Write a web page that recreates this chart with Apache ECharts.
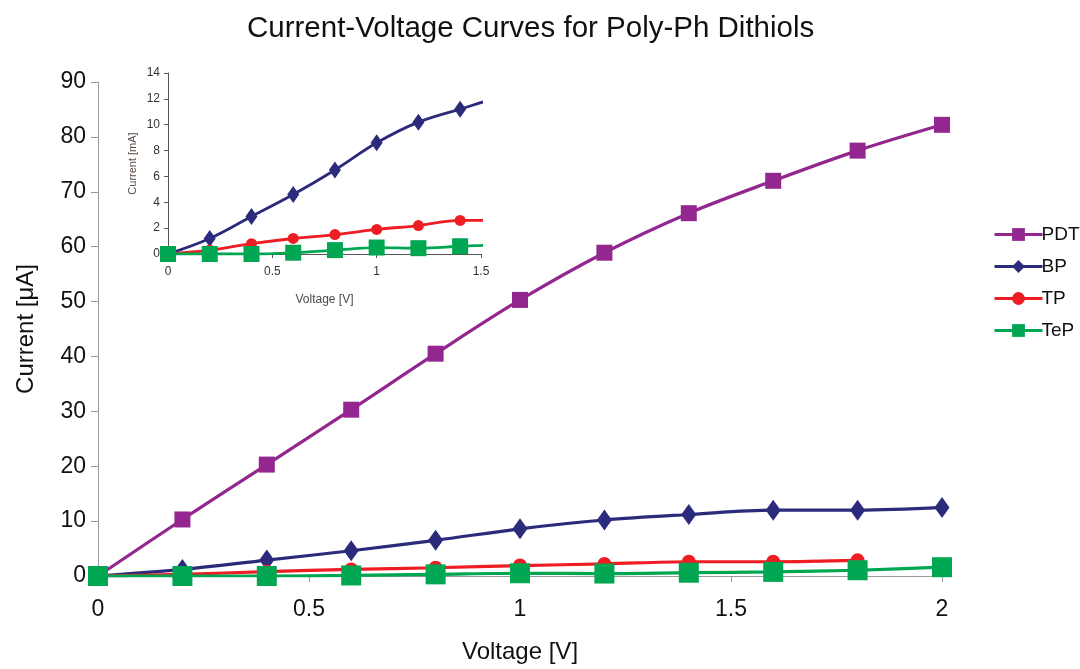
<!DOCTYPE html>
<html>
<head>
<meta charset="utf-8">
<script src="https://cdn.jsdelivr.net/npm/echarts@6/dist/echarts.min.js"></script>
<style>
  html, body { margin: 0; padding: 0; background: #fff; }
  #chart { width: 1080px; height: 669px; }
</style>
</head>
<body>
<div id="chart"></div>
<script>
// Bias voltages [V]
const voltage = [0, 0.2, 0.4, 0.6, 0.8, 1.0, 1.2, 1.4, 1.6, 1.8, 2.0];
// Measured currents per molecule
const pdt = [0, 10.3, 20.3, 30.3, 40.5, 50.3, 58.9, 66.1, 72.0, 77.5, 82.2];
const bp  = [0, 1.2, 2.9, 4.6, 6.5, 8.6, 10.2, 11.2, 12.0, 12.0, 12.5];
const tp  = [0, 0.3, 0.8, 1.2, 1.5, 1.9, 2.2, 2.6, 2.6, 2.85];
const tep = [0, 0, 0, 0.1, 0.3, 0.5, 0.45, 0.6, 0.75, 1.05, 1.6];

const seriesNames = ['PDT', 'BP', 'TP', 'TeP'];
const colors = { PDT: '#93278F', BP: '#2B2A7B', TP: '#EE1D23', TeP: '#00A651' };

const FONT = 'Liberation Sans, Arial, sans-serif';

function pairs(values) {
  return values.map((v, i) => [voltage[i], v]);
}

const mainStyle = {
  PDT: { symbol: 'rect', symbolSize: 16 },
  BP:  { symbol: 'diamond', symbolSize: [15, 21] },
  TP:  { symbol: 'circle', symbolSize: 14 },
  TeP: { symbol: 'rect', symbolSize: 20 }
};
const insetStyle = {
  BP:  { symbol: 'diamond', symbolSize: [12, 17] },
  TP:  { symbol: 'circle', symbolSize: 11 },
  TeP: { symbol: 'rect', symbolSize: 16 }
};
const dataBy = { PDT: pdt, BP: bp, TP: tp, TeP: tep };

const series = [];
seriesNames.forEach(name => {
  series.push({
    name: name,
    type: 'line',
    xAxisIndex: 0,
    yAxisIndex: 0,
    data: pairs(dataBy[name]),
    smooth: 0.35,
    symbol: mainStyle[name].symbol,
    symbolSize: mainStyle[name].symbolSize,
    showAllSymbol: true,
    lineStyle: { color: colors[name], width: 3.2 },
    itemStyle: { color: colors[name] },
    emphasis: { disabled: true },
    animation: false
  });
});
['BP', 'TP', 'TeP'].forEach(name => {
  series.push({
    name: name,
    type: 'line',
    xAxisIndex: 1,
    yAxisIndex: 1,
    data: pairs(dataBy[name]),
    smooth: 0.35,
    symbol: insetStyle[name].symbol,
    symbolSize: insetStyle[name].symbolSize,
    showAllSymbol: true,
    lineStyle: { color: colors[name], width: 2.8 },
    itemStyle: { color: colors[name] },
    emphasis: { disabled: true },
    animation: false
  });
});

const chart = echarts.init(document.getElementById('chart'), null, { renderer: 'canvas' });

chart.setOption({
  backgroundColor: '#fff',
  animation: false,
  textStyle: { fontFamily: FONT },
  title: {
    text: 'Current-Voltage Curves for Poly-Ph Dithiols',
    left: 242,
    top: 9,
    textStyle: { fontFamily: FONT, fontSize: 29.5, fontWeight: 'normal', color: '#111' }
  },
  legend: {
    data: seriesNames,
    orient: 'vertical',
    left: 988,
    top: 220,
    itemWidth: 48,
    itemHeight: 16,
    itemGap: 13,
    lineStyle: { width: 3 },
    textStyle: { fontFamily: FONT, fontSize: 19, color: '#111', padding: [0, 0, 0, -6] },
    selectedMode: false
  },
  grid: [
    { left: 98, right: 138, top: 82, bottom: 91 },
    { left: 168, right: 599, top: 73, bottom: 415 }
  ],
  xAxis: [
    {
      gridIndex: 0,
      type: 'value',
      min: 0, max: 2, interval: 0.5,
      name: 'Voltage [V]',
      nameLocation: 'middle',
      nameGap: 64,
      nameTextStyle: { fontFamily: FONT, fontSize: 24, color: '#111' },
      axisLine: { show: true, lineStyle: { color: '#9a9a9a', width: 1 } },
      axisTick: { show: true, length: 6, lineStyle: { color: '#9a9a9a' } },
      axisLabel: { fontFamily: FONT, fontSize: 23, color: '#111', margin: 22 },
      splitLine: { show: false }
    },
    {
      gridIndex: 1,
      type: 'value',
      min: 0, max: 1.5, interval: 0.5,
      name: 'Voltage [V]',
      nameLocation: 'middle',
      nameGap: 40,
      nameTextStyle: { fontFamily: FONT, fontSize: 12, color: '#4a4a4a' },
      axisLine: { show: true, lineStyle: { color: '#555', width: 1 } },
      axisTick: { show: true, length: 4, lineStyle: { color: '#555' } },
      axisLabel: { fontFamily: FONT, fontSize: 12, color: '#333', margin: 12 },
      splitLine: { show: false }
    }
  ],
  yAxis: [
    {
      gridIndex: 0,
      type: 'value',
      min: 0, max: 90, interval: 10,
      name: 'Current [μA]',
      nameLocation: 'middle',
      nameGap: 60,
      nameRotate: 90,
      nameTextStyle: { fontFamily: FONT, fontSize: 24, color: '#111' },
      axisLine: { show: true, lineStyle: { color: '#9a9a9a', width: 1 } },
      axisTick: { show: true, length: 7, lineStyle: { color: '#9a9a9a' } },
      axisLabel: { fontFamily: FONT, fontSize: 23, color: '#111', margin: 12 },
      splitLine: { show: false }
    },
    {
      gridIndex: 1,
      type: 'value',
      min: 0, max: 14, interval: 2,
      name: 'Current [mA]',
      nameLocation: 'middle',
      nameGap: 30,
      nameRotate: 90,
      nameTextStyle: { fontFamily: FONT, fontSize: 11, color: '#5a4a40' },
      axisLine: { show: true, lineStyle: { color: '#555', width: 1 } },
      axisTick: { show: true, length: 4, lineStyle: { color: '#555' } },
      axisLabel: { fontFamily: FONT, fontSize: 12, color: '#333', margin: 8 },
      splitLine: { show: false }
    }
  ],
  series: series
});
</script>
</body>
</html>
